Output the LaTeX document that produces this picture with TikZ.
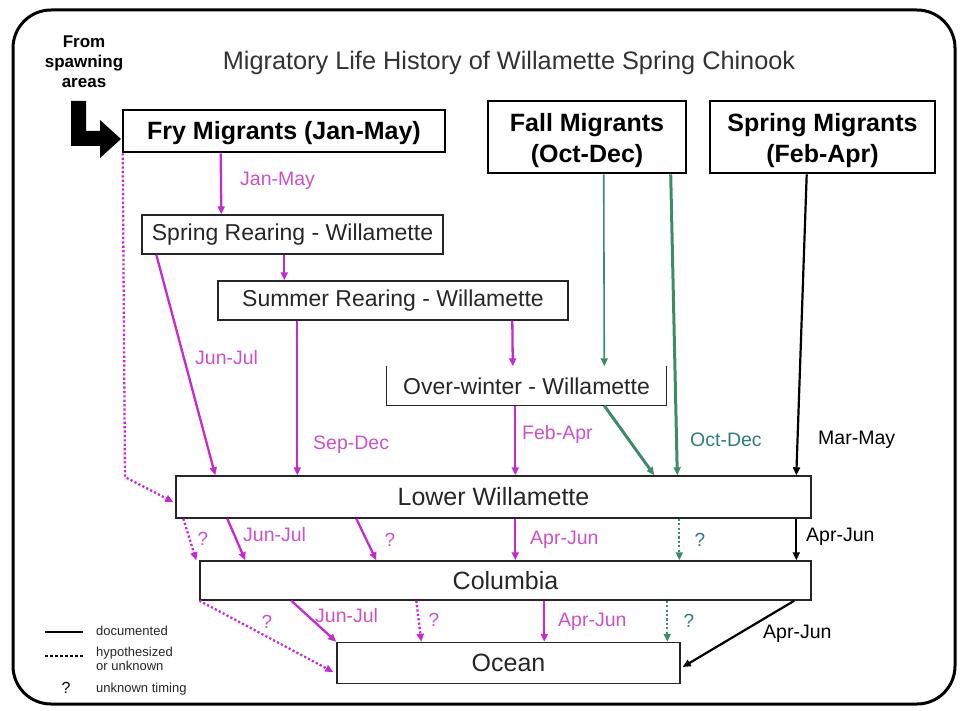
\documentclass[tikz,border=0pt]{standalone}
\usepackage{fontspec}
\setmainfont{Liberation Sans}
\usetikzlibrary{arrows.meta}
\definecolor{mag}{RGB}{200,40,210}
\definecolor{magtxt}{RGB}{205,80,200}
\definecolor{grn}{RGB}{60,140,105}
\definecolor{teal}{RGB}{45,125,125}
\definecolor{ttl}{RGB}{50,50,50}
\tikzset{
  boldbox/.style={draw=black,line width=2.6pt,inner sep=0pt,font=\fontsize{25}{31}\selectfont\bfseries,align=center},
  boldtxt/.style={inner sep=0pt,font=\fontsize{25}{31}\selectfont\bfseries,align=center},
  plainbox/.style={draw=black!85,line width=1.4pt,inner sep=0pt,font=\fontsize{23}{26}\selectfont,text=black!85},
  bigplain/.style={plainbox,font=\fontsize{25}{28}\selectfont},
  tip/.style={-{Triangle[length=8pt,width=7pt]}},
  marr/.style={tip,draw=mag,line width=2.3pt},
  mdot/.style={tip,draw=mag,line width=2.3pt,dash pattern=on 2.2pt off 2.2pt},
  garr/.style={tip,draw=grn,line width=1.6pt},
  gthick/.style={tip,draw=grn,line width=3pt},
  gdot/.style={tip,draw=grn,line width=2pt,dash pattern=on 2.2pt off 2.2pt},
  barr/.style={tip,draw=black,line width=2.2pt},
  lab/.style={anchor=west,font=\fontsize{19.5}{22}\selectfont,inner sep=0pt},
  qm/.style={font=\fontsize{19}{21}\selectfont,inner sep=0pt},
  leg/.style={anchor=west,font=\fontsize{13}{14}\selectfont,inner sep=0pt,align=left,text=black!85},
}
\begin{document}
\begin{tikzpicture}[x=1pt,y=-1pt]
\useasboundingbox (0,0) rectangle (964,711);
\draw[line width=3pt,rounded corners=38pt] (13,10) rectangle (955,704);
% title
\node[font=\fontsize{25.3}{28}\selectfont,text=ttl,inner sep=0pt] (title) at (509,63) {Migratory Life History of Willamette Spring Chinook};
\node[font=\fontsize{17}{20}\selectfont\bfseries,align=center,inner sep=0pt] (from) at (84,62) {From\\spawning\\areas};
% big arrow
\fill[black] (71,101) -- (86,101) -- (86,131) -- (100,131) -- (100,120) -- (121,139) -- (100,158) -- (100,146) -- (71,146) -- cycle;
% boxes
\node[boldbox,minimum width=322pt,minimum height=42pt] (fry) at (284,131) {};
\node[boldtxt] (frytxt) at (284,133) {Fry Migrants (Jan-May)};
\node[boldbox,minimum width=198pt,minimum height=72pt] (fall) at (587,137) {};
\node[boldtxt] (falltxt) at (587,141) {Fall Migrants\\(Oct-Dec)};
\node[boldbox,minimum width=225pt,minimum height=72pt] (spring) at (822.5,137) {};
\node[boldtxt] (springtxt) at (822.5,141) {Spring Migrants\\(Feb-Apr)};
\node[plainbox,minimum width=301pt,minimum height=39pt] (sr) at (292.5,234.5) {Spring Rearing - Willamette};
\node[plainbox,minimum width=350pt,minimum height=39pt] (su) at (393,300.5) {Summer Rearing - Willamette};
\node[plainbox,draw=none,minimum width=279pt,minimum height=38pt] (ow) at (526.5,386) {Over-winter - Willamette};
\draw[black!85,line width=1.4pt] (ow.north west) -- (ow.south west) -- (ow.south east) -- (ow.north east);
\node[bigplain,minimum width=635pt,minimum height=42pt] (lw) at (493.5,497) {Lower Willamette};
\node[bigplain,minimum width=611pt,minimum height=39pt] (co) at (505.5,580.5) {Columbia};
\node[bigplain,minimum width=343pt,minimum height=41pt] (oc) at (508.5,663) {Ocean};
% arrows upper
\draw[marr] ([xshift=99pt]fry.south west) -- ([xshift=80pt]sr.north west);
\node[lab,text=magtxt] (l1) at (240,181) {Jan-May};
\draw[marr] ([xshift=143pt]sr.south west) -- ([xshift=67pt]su.north west);
\draw[marr] ([xshift=15pt]sr.south west) -- ([xshift=40pt]lw.north west);
\node[lab,text=magtxt] (l2) at (195,358) {Jun-Jul};
\draw[marr] ([xshift=80pt]su.south west) -- ([xshift=122pt]lw.north west);
\node[lab,text=magtxt] (l3) at (313,445) {Sep-Dec};
\draw[marr] ([xshift=295pt]su.south west) -- ([xshift=126.5pt]ow.north west);
\draw[marr] ([xshift=129pt]ow.south west) -- ([xshift=340pt]lw.north west);
\node[lab,text=magtxt] (l4) at (522,434) {Feb-Apr};
\draw[gthick] ([xshift=218pt]ow.south west) -- ([xshift=479pt]lw.north west);
\draw[garr] ([xshift=117pt]fall.south west) -- ([xshift=218pt]ow.north west);
\draw[gthick] ([xshift=184pt]fall.south west) -- ([xshift=502pt]lw.north west);
\node[lab,text=teal] (l5) at (690,440) {Oct-Dec};
\draw[barr] ([xshift=98pt]spring.south west) -- ([xshift=621pt]lw.north west);
\node[lab] (l6) at (818,440) {Mar-May};
\coordinate (d1) at (125,477);
\draw[mdot] ([xshift=1pt]fry.south west) -- (d1) -- ([yshift=-5pt,xshift=-2pt]lw.west);
% lower willamette -> columbia
\draw[mdot] ([xshift=8pt]lw.south west) -- ([xshift=-3pt]co.north west);
\node[qm,text=magtxt] (q1) at (203,539) {?};
\draw[marr] ([xshift=52pt]lw.south west) -- ([xshift=46pt]co.north west);
\node[lab,text=magtxt] (l7) at (243,535) {Jun-Jul};
\draw[marr] ([xshift=181pt]lw.south west) -- ([xshift=177pt]co.north west);
\node[qm,text=magtxt] (q2) at (390,540) {?};
\draw[marr] ([xshift=340pt]lw.south west) -- ([xshift=316pt]co.north west);
\node[lab,text=magtxt] (l8) at (530,540) {Apr-Jun};
\draw[gdot] ([xshift=504pt]lw.south west) -- ([xshift=480pt]co.north west);
\node[qm,text=teal] (q3) at (700,540) {?};
\draw[barr] ([xshift=621pt]lw.south west) -- ([xshift=597pt]co.north west);
\node[lab] (l9) at (806,537) {Apr-Jun};
% columbia -> ocean
\draw[mdot] (co.south west) -- ([yshift=-9pt,xshift=-3pt]oc.west);
\node[qm,text=magtxt] (q4) at (267,622) {?};
\draw[marr] ([xshift=92pt]co.south west) -- (oc.north west);
\node[lab,text=magtxt] (l10) at (315,616) {Jun-Jul};
\draw[mdot] ([xshift=217pt]co.south west) -- ([xshift=85pt]oc.north west);
\node[qm,text=magtxt] (q5) at (434,620) {?};
\draw[marr] ([xshift=345pt]co.south west) -- ([xshift=208pt]oc.north west);
\node[lab,text=magtxt] (l11) at (558,622) {Apr-Jun};
\draw[gdot] ([xshift=468pt]co.south west) -- ([xshift=331pt]oc.north west);
\node[qm,text=teal] (q6) at (689,621) {?};
\draw[barr] ([xshift=595pt]co.south west) -- ([yshift=-4pt,xshift=2pt]oc.east);
\node[lab] (l12) at (763,634) {Apr-Jun};
% legend
\coordinate (ls1) at (45,632); \coordinate (le1) at (83,632);
\coordinate (ls2) at (45,656); \coordinate (le2) at (83,656);
\draw[line width=2.2pt] (ls1) -- (le1);
\draw[line width=2.2pt,dash pattern=on 3pt off 2pt] (ls2) -- (le2);
\node[leg] (t1) at (96,631) {documented};
\node[leg] (t2) at (96,659) {hypothesized\\or unknown};
\node[font=\fontsize{16}{18}\selectfont,inner sep=0pt] (t3q) at (66,688) {?};
\node[leg] (t3) at (96,689) {unknown timing};
\end{tikzpicture}
\end{document}
